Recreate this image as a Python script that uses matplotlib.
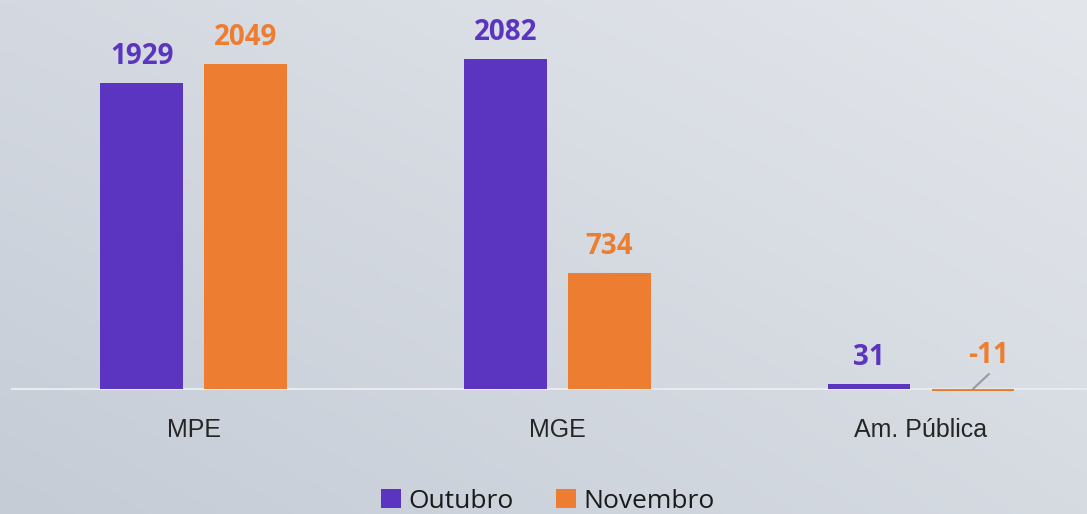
import numpy as np
from matplotlib import pyplot as plt

categories = ["MPE", "MGE", "Am. Pública"]
outubro = [1929, 2082, 31]
novembro = [2049, 734, -11]
series_names = ["Outubro", "Novembro"]

purple = "#5b35c0"
orange = "#ed7d31"

W, H = 1087, 514
fig = plt.figure(figsize=(W / 100, H / 100), dpi=100)

# background gradient
bg = fig.add_axes([0, 0, 1, 1], zorder=-10)
gx, gy = np.meshgrid(np.linspace(0, 1, 200), np.linspace(0, 1, 100))
tl = np.array([212, 217, 225]) / 255
tr = np.array([227, 230, 235]) / 255
bl = np.array([197, 204, 214]) / 255
br = np.array([214, 219, 226]) / 255
img = (tl * ((1 - gx) * (1 - gy))[..., None] + tr * (gx * (1 - gy))[..., None]
       + bl * ((1 - gx) * gy)[..., None] + br * (gx * gy)[..., None])
bg.imshow(img, aspect="auto", extent=[0, 1, 0, 1])
bg.axis("off")

ax = fig.add_axes([12 / W, 0, 1 - 12 / W, 1])
ax.patch.set_alpha(0)

x = np.arange(len(categories))
off = 0.143
w = 0.228
b1 = ax.bar(x - off, outubro, w, color=purple, label=series_names[0], zorder=3)
b2 = ax.bar(x + off, novembro, w, color=orange, label=series_names[1], zorder=3)

unit = 2082 / 330.0
ax.set_xlim(-0.5, (W - 194) / 363.5)
ax.set_ylim(-125 * unit, 389 * unit)

for s in ["top", "right", "left"]:
    ax.spines[s].set_visible(False)
ax.spines["bottom"].set_position(("data", 0))
ax.spines["bottom"].set_color("#e8eaee")
ax.spines["bottom"].set_linewidth(1.5)
ax.set_yticks([])
ax.set_xticks(x)
ax.set_xticklabels(categories, fontsize=18, family="Liberation Sans", color="#262626")
ax.tick_params(axis="x", length=0, pad=21)

# value labels
for bars, vals, col in [(b1, outubro, purple), (b2, novembro, orange)]:
    for rect, v in zip(bars, vals):
        cx = rect.get_x() + rect.get_width() / 2
        if v >= 0:
            ax.annotate(str(v), xy=(cx, v), xytext=(0, 19), textcoords="offset pixels",
                        ha="center", va="baseline", fontsize=20, fontweight="bold",
                        family="Open Sans", color=col, zorder=4)
        else:
            ax.annotate(str(v), xy=(cx, 0), xytext=(16, 26), textcoords="offset pixels",
                        ha="center", va="baseline", fontsize=20, fontweight="bold",
                        family="Open Sans", color=col, zorder=4)
            ax.annotate("", xy=(cx, 0), xytext=(16, 15), textcoords="offset pixels",
                        arrowprops=dict(arrowstyle="-", color="#9a9a9a", lw=1.5,
                                        shrinkA=0, shrinkB=0), zorder=4)

fig.legend(handles=[b1, b2], labels=series_names, loc="center",
           bbox_to_anchor=(548 / W, 1 - 501 / H), ncol=2, frameon=False,
           prop={"family": "Open Sans", "size": 19},
           handlelength=0.75, handleheight=0.75, handletextpad=0.3,
           columnspacing=1.6, labelcolor="#1a1a1a")

fig.savefig("out.png", dpi=100)
